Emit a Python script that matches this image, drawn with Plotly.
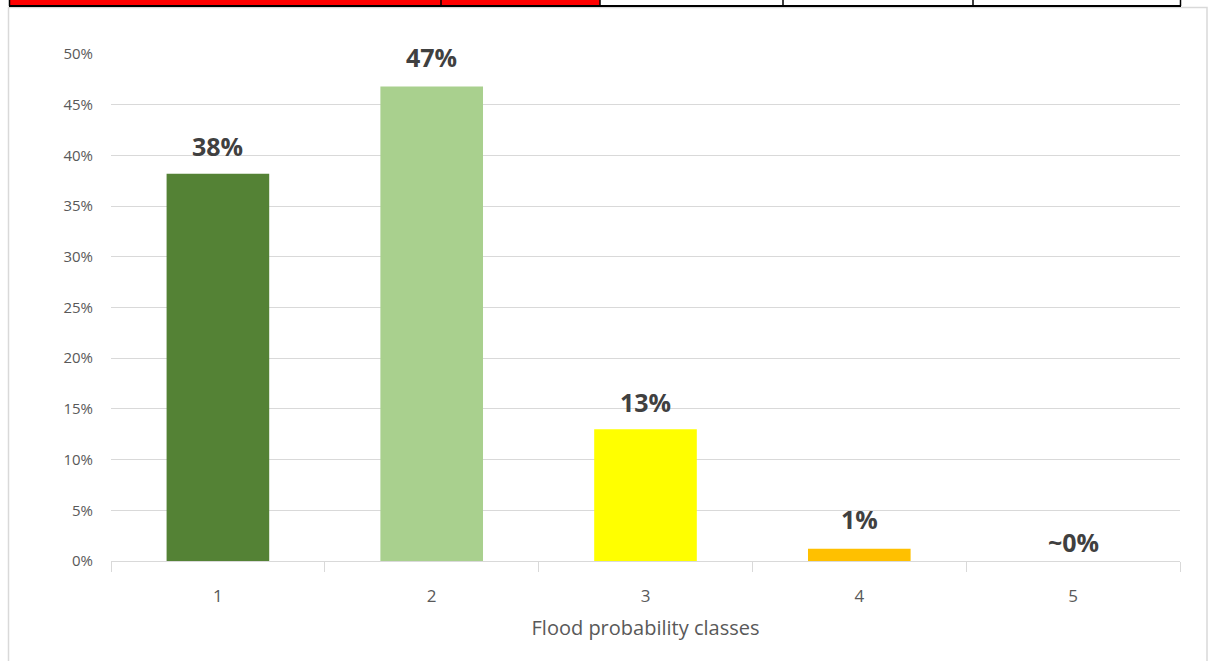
import plotly.graph_objects as go

categories = ["1", "2", "3", "4", "5"]
values = [0.382, 0.468, 0.130, 0.012, 0.0]
labels = ["38%", "47%", "13%", "1%", "~0%"]
colors = ["#548235", "#A9D08E", "#FFFF00", "#FFC000", "#FFC000"]
label_shift = [28, 29, 27, 30, 19]

W, H = 1208, 661
L, R, T, B = 111, 1180, 54, 561

def px(x):
    return (x - L) / (R - L)

def py(y):
    return (B - y) / (B - T)

fig = go.Figure()
fig.add_trace(go.Bar(x=categories, y=values, marker=dict(color=colors, line=dict(width=0)),
                     hoverinfo="skip"))

for i, (v, t, s) in enumerate(zip(values, labels, label_shift)):
    fig.add_annotation(x=i, y=v, text=t, showarrow=False, yanchor="middle", yshift=s,
                       font=dict(family="Open Sans, Liberation Sans, sans-serif", size=25,
                                 color="#404040", weight="bold"))

shapes = []
# outer chart frame
shapes.append(dict(type="rect", xref="paper", yref="paper", x0=px(8.5), x1=px(1207), y0=py(662), y1=py(7.5),
                   line=dict(color="#d9d9d9", width=1.5), fillcolor="rgba(0,0,0,0)", layer="below"))
# top table strip
shapes.append(dict(type="rect", xref="paper", yref="paper", x0=px(9), x1=px(600), y0=py(6), y1=py(-2),
                   fillcolor="#FF0000", line=dict(width=0)))
shapes.append(dict(type="line", xref="paper", yref="paper", x0=px(9), x1=px(1181), y0=py(6), y1=py(6),
                   line=dict(color="#000000", width=2)))
for xv in [9.5, 441, 600, 783, 973, 1180.5]:
    shapes.append(dict(type="line", xref="paper", yref="paper", x0=px(xv), x1=px(xv), y0=py(6), y1=py(-2),
                       line=dict(color="#000000", width=1.5)))

fig.update_layout(
    width=W, height=H,
    margin=dict(l=L, r=W - R, t=T, b=H - B),
    paper_bgcolor="white", plot_bgcolor="white",
    bargap=0.52,
    showlegend=False,
    shapes=shapes,
    font=dict(family="Open Sans, Liberation Sans, sans-serif", color="#595959"),
    xaxis=dict(
        type="category", range=[-0.5, 4.5],
        showline=True, linecolor="#d9d9d9", linewidth=1,
        ticks="outside", tickson="boundaries", ticklen=10, tickcolor="#d9d9d9",
        tickfont=dict(size=17, color="#595959"),
        ticklabelstandoff=20,
        showgrid=False,
        title=dict(text="Flood probability classes", font=dict(size=20, color="#595959"), standoff=14),
    ),
    yaxis=dict(
        range=[0, 0.5], dtick=0.05, tickformat=".0%",
        showgrid=True, gridcolor="#d9d9d9", gridwidth=1,
        zeroline=False, showline=False,
        tickfont=dict(size=15, color="#595959"),
        ticklabelstandoff=17,
    ),
)

fig.write_html("out.html")
